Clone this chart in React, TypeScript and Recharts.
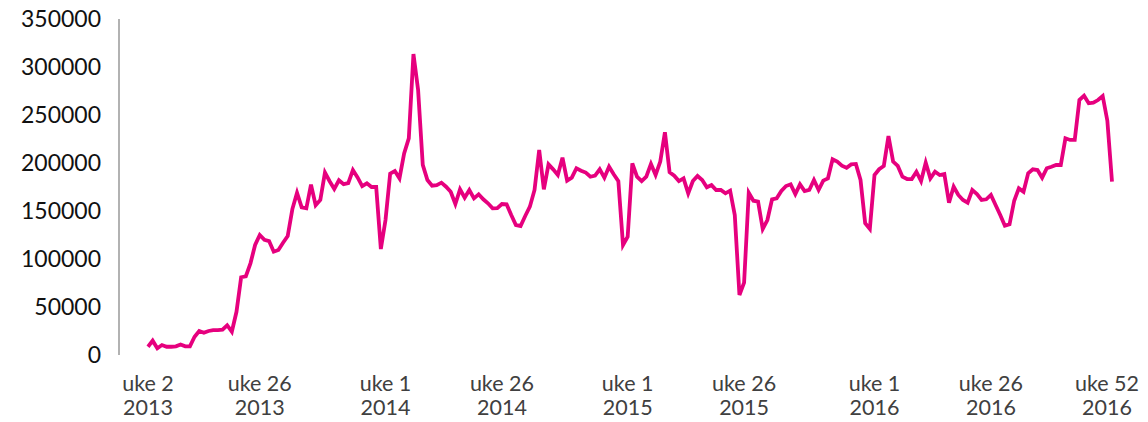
import { LineChart, Line, XAxis, YAxis } from 'recharts'

// weekly totals
const YEARS = [2013, 2014, 2015, 2016]
const FIRST_WEEK = [2, 1, 1, 1]

const VALUES_2013 = [
  8600, 14900, 7000, 10400, 8600, 8600, 9000, 11000, 9000, 9000, 19000, 25000, 23200,
  25000, 26000, 26000, 26500, 31000, 24300, 45000, 81000, 82000, 95500, 114600, 125000,
  120000, 118700, 107600, 109400, 117000, 124000, 152000, 169000, 153800, 152800, 177500,
  156000, 161500, 190000, 181000, 173000, 182000, 178000, 179000, 192700, 185000, 176000,
  178800, 175000, 175000, 110400,
]
const VALUES_2014 = [
  140600, 189000, 191700, 184000, 210000, 225700, 313500, 276000, 198000, 182300, 176400,
  177000, 179500, 175300, 170000, 157300, 172600, 163800, 171900, 163200, 167400, 162200,
  158000, 152800, 153000, 157300, 157000, 145800, 135400, 134400, 144800, 154500, 171900,
  213500, 172600, 198600, 193400, 187500, 205500, 181600, 184700, 194500, 192000, 190000,
  185700, 186800, 193400, 184700, 196100, 188200, 181200, 114600,
]
const VALUES_2015 = [
  123200, 199700, 185700, 181200, 185700, 199000, 187500, 201400, 232000, 190300, 186800,
  181200, 184000, 168400, 181200, 186500, 182300, 174700, 177000, 171900, 171900, 168400,
  171200, 145800, 62500, 75300, 169000, 160700, 159700, 131300, 140600, 162200, 163200,
  170800, 176000, 177800, 167700, 177800, 170800, 171900, 182300, 171900, 181600, 184000,
  203800, 201400, 197200, 195100, 198600, 199000, 182300, 137200, 131300,
]
const VALUES_2016 = [
  187500, 193500, 196900, 228100, 201400, 196900, 185700, 183300, 183300, 190900, 181200,
  200300, 184000, 190900, 187500, 188500, 158600, 175300, 166700, 161500, 158600, 171900,
  167700, 161500, 162200, 166700, 156200, 145800, 134700, 136100, 160700, 173600, 170100,
  189300, 193400, 192700, 184700, 194500, 196100, 197900, 197900, 225700, 224000, 224000,
  265600, 270100, 262200, 262800, 265600, 269800, 244100, 180500,
]
const VALUES_BY_YEAR = [VALUES_2013, VALUES_2014, VALUES_2015, VALUES_2016]

const X_TICKS = [
  'uke 2 2013',
  'uke 26 2013',
  'uke 1 2014',
  'uke 26 2014',
  'uke 1 2015',
  'uke 26 2015',
  'uke 1 2016',
  'uke 26 2016',
  'uke 52 2016',
]
const Y_TICKS = [0, 50000, 100000, 150000, 200000, 250000, 300000, 350000]

const data = YEARS.flatMap((year, yi) =>
  VALUES_BY_YEAR[yi].map((value, wi) => ({
    label: `uke ${FIRST_WEEK[yi] + wi} ${year}`,
    value,
  }))
)

const FONT = 'Lato, "Open Sans", sans-serif'

function WeekTick(props: any) {
  const { x, y, payload, index } = props
  const text: string = payload.value
  const cut = text.lastIndexOf(' ')
  // last label sits against the right edge, nudge it in
  const cx = index === X_TICKS.length - 1 ? x - 5 : x
  return (
    <g>
      <text x={cx} y={y + 36} textAnchor="middle" fill="#404040" fontSize={21.5} fontFamily={FONT}>
        {text.slice(0, cut)}
      </text>
      <text x={cx} y={y + 60} textAnchor="middle" fill="#404040" fontSize={21.5} fontFamily={FONT}>
        {text.slice(cut + 1)}
      </text>
    </g>
  )
}

export default function App() {
  return (
    <div style={{ position: 'absolute', left: 0, top: 0, width: 1148, height: 422, fontFamily: FONT }}>
      <LineChart width={1148} height={422} data={data} margin={{ top: 19, right: 36, bottom: 0, left: 0 }}>
        <XAxis
          dataKey="label"
          ticks={X_TICKS}
          interval={0}
          axisLine={false}
          tickLine={false}
          tickSize={0}
          tickMargin={0}
          height={67}
          padding={{ left: 29, right: 0 }}
          tick={<WeekTick />}
        />
        <YAxis
          type="number"
          domain={[0, 350000]}
          ticks={Y_TICKS}
          interval={0}
          width={119}
          axisLine={{ stroke: '#999999', strokeWidth: 1.5 }}
          tickLine={false}
          tickSize={0}
          tickMargin={18}
          tick={{ fontSize: 23, fill: '#111111', fontFamily: FONT }}
        />
        <Line
          type="linear"
          dataKey="value"
          stroke="#E6007E"
          strokeWidth={3.8}
          dot={false}
          isAnimationActive={false}
        />
      </LineChart>
    </div>
  )
}
